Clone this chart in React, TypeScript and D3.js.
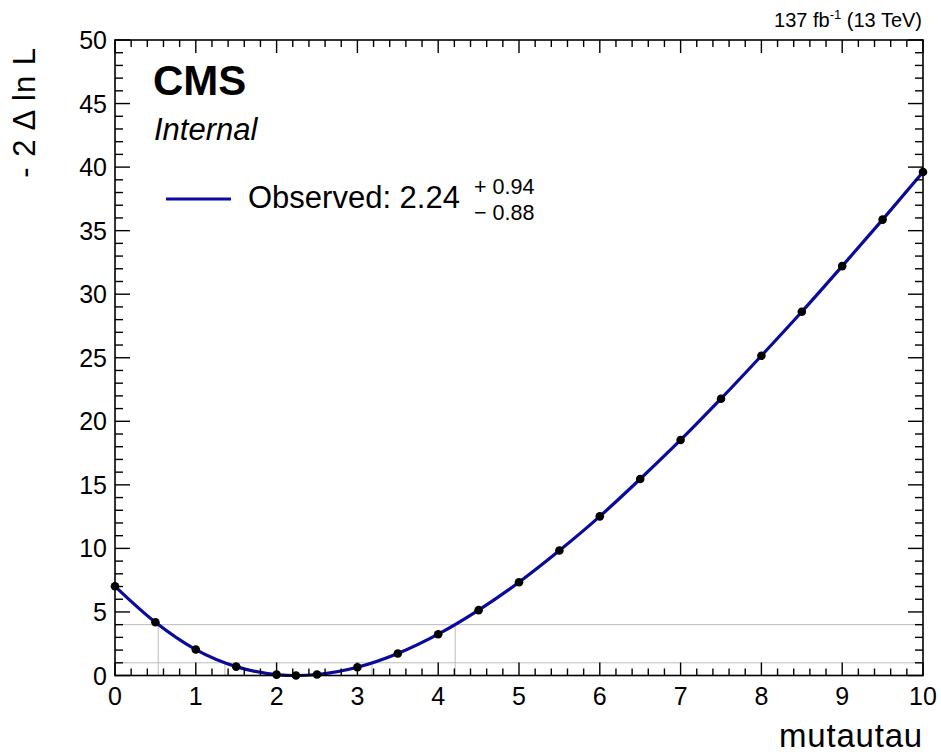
import React from "react";
import * as d3 from "d3";

const W = 941;
const H = 756;

// Scan points
const xValues = [0, 0.5, 1, 1.5, 2, 2.24, 2.5, 3, 3.5, 4, 4.5, 5, 5.5, 6, 6.5, 7, 7.5, 8, 8.5, 9, 9.5, 10];
const yValues = [7.02, 4.19, 2.04, 0.7, 0.07, 0, 0.08, 0.65, 1.73, 3.25, 5.14, 7.34, 9.83, 12.52, 15.46, 18.53, 21.78, 25.16, 28.62, 32.21, 35.87, 39.62];

// Confidence level lines and their crossings
const levels = [1, 4];
const crossings = [
  [1.36, 3.18],
  [0.535, 4.21],
];

const xTicks = [0, 1, 2, 3, 4, 5, 6, 7, 8, 9, 10];
const yTicks = [0, 5, 10, 15, 20, 25, 30, 35, 40, 45, 50];

const bestFit = "2.24";
const errUp = "+ 0.94";
const errDown = "\u2212 0.88";

const L = 115, R = 923, T = 40, B = 675.5;
const FONT = "'Liberation Sans', Arial, Helvetica, sans-serif";
const BLUE = "#0a0a9c";

export default function App() {
  const x = d3.scaleLinear().domain([0, 10]).range([L, R]);
  const y = d3.scaleLinear().domain([0, 50]).range([B, T]);

  const pts = xValues.map((v, i) => [v, yValues[i]] as [number, number]);
  const line = d3
    .line<[number, number]>()
    .x((d) => x(d[0]))
    .y((d) => y(d[1]))
    .curve(d3.curveMonotoneX);

  const xMinor = d3.range(0, 10.001, 0.2);
  const yMinor = d3.range(0, 50.001, 1);

  return (
    <svg width={W} height={H} style={{ position: "absolute", left: 0, top: 0, background: "#fff" }} fontFamily={FONT}>
      <rect x={0} y={0} width={W} height={H} fill="#fff" />
      {/* level lines */}
      {levels.map((lv, i) => (
        <g key={"lv" + i}>
          <line x1={L} x2={R} y1={y(lv)} y2={y(lv)} stroke="#bbbbbb" strokeWidth={1} />
          {crossings[i].map((c, j) => (
            <line key={j} x1={x(c)} x2={x(c)} y1={y(lv)} y2={y(0)} stroke="#bbbbbb" strokeWidth={1} />
          ))}
        </g>
      ))}

      {/* curve */}
      <path d={line(pts) || ""} fill="none" stroke={BLUE} strokeWidth={3.2} />
      {pts.map((p, i) => (
        <circle key={i} cx={x(p[0])} cy={y(p[1])} r={4.3} fill="#000" />
      ))}

      {/* frame */}
      <rect x={L} y={T} width={R - L} height={B - T} fill="none" stroke="#000" strokeWidth={1.6} />

      {/* x ticks */}
      {xMinor.map((v, i) => {
        const major = Math.abs(v - Math.round(v)) < 1e-6;
        const len = major ? 13 : 7;
        return (
          <g key={"xt" + i}>
            <line x1={x(v)} x2={x(v)} y1={B} y2={B - len} stroke="#000" strokeWidth={1.4} />
            <line x1={x(v)} x2={x(v)} y1={T} y2={T + len} stroke="#000" strokeWidth={1.4} />
          </g>
        );
      })}
      {/* y ticks */}
      {yMinor.map((v, i) => {
        const major = v % 5 === 0;
        const len = major ? 15 : 8;
        return (
          <g key={"yt" + i}>
            <line x1={L} x2={L + len} y1={y(v)} y2={y(v)} stroke="#000" strokeWidth={1.4} />
            <line x1={R} x2={R - len} y1={y(v)} y2={y(v)} stroke="#000" strokeWidth={1.4} />
          </g>
        );
      })}

      {xTicks.map((v) => (
        <text key={"xl" + v} x={x(v)} y={705} textAnchor="middle" fontSize={25}>
          {v}
        </text>
      ))}
      {yTicks.map((v) => (
        <text key={"yl" + v} x={107} y={y(v) + 9} textAnchor="end" fontSize={25}>
          {v}
        </text>
      ))}

      {/* axis titles */}
      <text x={923} y={747} textAnchor="end" fontSize={33} letterSpacing={0.8}>
        mutautau
      </text>
      <text transform={`translate(35,47) rotate(-90)`} textAnchor="end" fontSize={31} letterSpacing={1}>
        - 2 Δ ln L
      </text>

      {/* header */}
      <text x={922} y={27} textAnchor="end" fontSize={20}>
        137 fb<tspan dy={-8} fontSize={13}>-1</tspan>
        <tspan dy={8}> (13 TeV)</tspan>
      </text>

      {/* CMS label */}
      <text x={153} y={95} fontSize={42} fontWeight="bold">
        CMS
      </text>
      <text x={154} y={140} fontSize={31} fontStyle="italic">
        Internal
      </text>

      {/* legend */}
      <line x1={166} x2={231} y1={199} y2={199} stroke={BLUE} strokeWidth={3.2} />
      <text x={248} y={208} fontSize={31}>
        {"Observed: " + bestFit}
      </text>
      <text x={474} y={194} fontSize={21.5}>
        {errUp}
      </text>
      <text x={474} y={220} fontSize={21.5}>
        {errDown}
      </text>
    </svg>
  );
}
